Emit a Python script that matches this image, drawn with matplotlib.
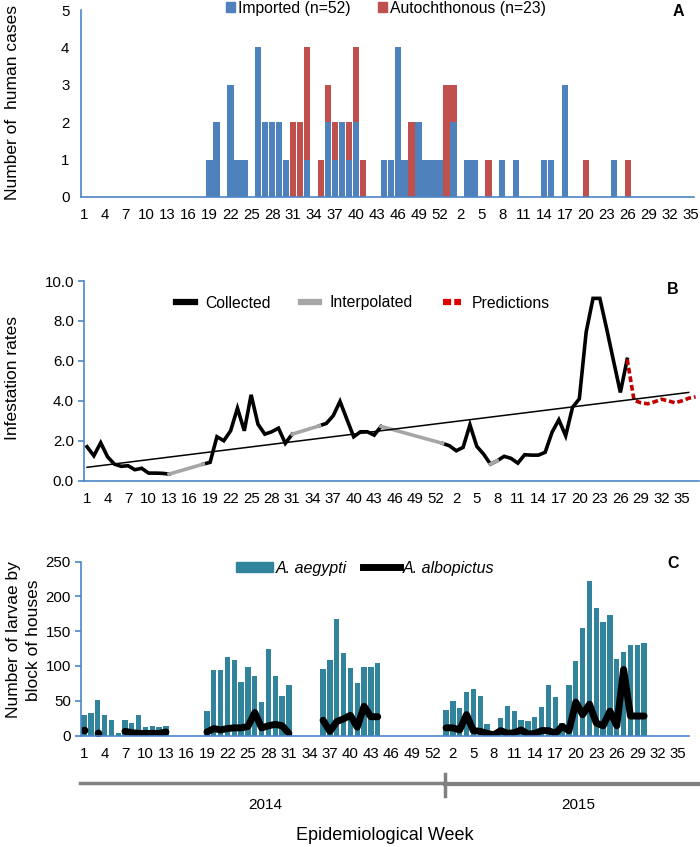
import numpy as np
import matplotlib
matplotlib.use('Agg')
import matplotlib.pyplot as plt
from matplotlib.lines import Line2D
from matplotlib.patches import Patch

plt.rcParams['font.family'] = ['Liberation Sans', 'DejaVu Sans']
plt.rcParams['font.size'] = 10.8

W, H = 700, 847
AXIS_BLUE = '#4A86C8'

# week labels: 2014 has 53 epi weeks, then 2015
def week_labels(n):
    wk = [str(i) for i in range(1, 54)] + [str(i) for i in range(1, 60)]
    return wk[:n]

# ---------------- Panel A: human cases ----------------
nA = 88
imported = {18: 1, 19: 2, 21: 3, 22: 1, 23: 1, 25: 4, 26: 2, 27: 2, 28: 2, 29: 1,
            32: 1, 35: 2, 36: 1, 37: 2, 38: 1, 39: 2, 43: 1, 44: 1, 45: 4, 46: 1,
            48: 2, 49: 1, 50: 1, 51: 1, 53: 2, 55: 1, 56: 1, 60: 1, 62: 1, 66: 1,
            67: 1, 69: 3, 76: 1}
autochthonous = {30: 2, 31: 2, 32: 3, 34: 1, 35: 1, 36: 1, 38: 1, 39: 2, 40: 1,
                 47: 2, 52: 3, 53: 1, 58: 1, 72: 1, 78: 1}

# ---------------- Panel B: infestation rates ----------------
nB = 90
collected = {0: 1.7, 1: 1.25, 2: 1.9, 3: 1.2, 4: 0.83, 5: 0.72, 6: 0.75, 7: 0.55,
             8: 0.62, 9: 0.38, 10: 0.38, 11: 0.37, 12: 0.33,
             17: 0.83, 18: 0.92, 19: 2.2, 20: 2.0, 21: 2.5, 22: 3.63, 23: 2.5,
             24: 4.3, 25: 2.83, 26: 2.33, 27: 2.45, 28: 2.63, 29: 1.87, 30: 2.33,
             34: 2.75, 35: 2.87, 36: 3.25, 37: 3.97, 38: 3.08, 39: 2.2, 40: 2.45,
             41: 2.45, 42: 2.28, 43: 2.72,
             52: 1.87, 53: 1.75, 54: 1.5, 55: 1.67, 56: 2.8, 57: 1.72, 58: 1.33,
             59: 0.83, 60: 1.0, 61: 1.22, 62: 1.12, 63: 0.88, 64: 1.3, 65: 1.28,
             66: 1.28, 67: 1.42, 68: 2.42, 69: 3.05, 70: 2.25, 71: 3.67, 72: 4.1,
             73: 7.45, 74: 9.13, 75: 9.13, 76: 7.6, 77: 6.0, 78: 4.42, 79: 6.08}
interp_gaps = [(12, 17), (30, 34), (43, 52), (59, 60)]
pred_start = 79
predictions = [6.08, 4.03, 3.9, 3.85, 3.95, 4.08, 4.0, 3.9, 4.0, 4.13, 4.2]
trend_ends = (0.67, 4.42)

# ---------------- Panel C: larvae ----------------
nC = 89
aegypti = {0: 29, 1: 33, 2: 51, 3: 29, 4: 23, 5: 3, 6: 22, 7: 18, 8: 29, 9: 12,
           10: 14, 11: 12, 12: 14,
           18: 35, 19: 94, 20: 94, 21: 113, 22: 108, 23: 77, 24: 98, 25: 86,
           26: 48, 27: 125, 28: 86, 29: 57, 30: 72,
           35: 95, 36: 108, 37: 168, 38: 119, 39: 97, 40: 76, 41: 99, 42: 99,
           43: 105,
           53: 36, 54: 49, 55: 39, 56: 63, 57: 67, 58: 57, 59: 17, 61: 25,
           62: 42, 63: 35, 64: 22, 65: 21, 66: 27, 67: 41, 68: 72, 69: 55,
           70: 18, 71: 73, 72: 107, 73: 155, 74: 222, 75: 184, 76: 163, 77: 174,
           78: 110, 79: 120, 80: 130, 81: 130, 82: 133}
albopictus = {0: 8, 2: 3,
              6: 6, 7: 4, 8: 3, 9: 3, 10: 3, 11: 3, 12: 5,
              18: 5, 19: 10, 20: 8, 21: 10, 22: 11, 23: 11, 24: 13, 25: 33,
              26: 11, 27: 14, 28: 16, 29: 14, 30: 3,
              35: 22, 36: 6, 37: 20, 38: 24, 39: 29, 40: 12, 41: 42, 42: 27, 43: 27,
              53: 11, 54: 11, 55: 8, 56: 30, 57: 7, 58: 6, 59: 3, 60: 1, 61: 7,
              62: 3, 63: 4, 64: 8, 65: 2, 66: 3, 67: 7, 68: 7, 69: 3, 70: 13,
              71: 7, 72: 48, 73: 30, 74: 45, 75: 18, 76: 14, 77: 35, 78: 14,
              79: 95, 80: 28, 81: 28, 82: 28}


def to_series(d, n):
    s = np.full(n, np.nan)
    for k, v in d.items():
        s[k] = v
    return s


def add_ax(left, right, top, bottom):
    return fig.add_axes([left / W, 1 - bottom / H, (right - left) / W, (bottom - top) / H])


def style_axis(ax, n, ticks_left=True):
    for s in ['top', 'right']:
        ax.spines[s].set_visible(False)
    ax.spines['left'].set_color(AXIS_BLUE)
    ax.spines['bottom'].set_color(AXIS_BLUE)
    ax.spines['left'].set_linewidth(1.2)
    ax.spines['bottom'].set_linewidth(1.2)
    ax.set_xlim(-0.5, n - 0.5)
    ax.set_xticks(np.arange(0, n, 3))
    ax.set_xticklabels(week_labels(n)[::3])
    ax.tick_params(axis='x', length=0, pad=8)
    if ticks_left:
        ax.tick_params(axis='y', color=AXIS_BLUE, length=4, width=1.2, pad=3)
    else:
        ax.tick_params(axis='y', length=0, pad=8)


def ylab(txt, y):
    fig.text(13 / W, 1 - y / H, txt, rotation=90, ha='center', va='center',
             fontsize=12.5, linespacing=1.05)


fig = plt.figure(figsize=(7, 8.47), dpi=100)

# ---- A ----
axA = add_ax(80.5, 694, 10, 197)
x = np.arange(nA)
imp = np.nan_to_num(to_series(imported, nA))
aut = np.nan_to_num(to_series(autochthonous, nA))
axA.bar(x, imp, width=0.92, color='#4F81BD', linewidth=0)
axA.bar(x, aut, bottom=imp, width=0.92, color='#C0504D', linewidth=0)
axA.set_ylim(0, 5)
axA.set_yticks(range(6))
style_axis(axA, nA, ticks_left=False)
ylab('Number of  human cases', 102)
axA.legend(handles=[Patch(color='#4F81BD', label='Imported (n=52)'),
                    Patch(color='#C0504D', label='Autochthonous (n=23)')],
           loc='center', bbox_to_anchor=(386 / W, 1 - 8 / H), bbox_transform=fig.transFigure,
           ncol=2, frameon=False, handlelength=0.6, handleheight=0.6, handletextpad=0.2,
           columnspacing=1.7, fontsize=11.3)
fig.text(678 / W, 1 - 12 / H, 'A', fontweight='bold', ha='center', va='center', fontsize=11.5)

# ---- B ----
axB = add_ax(83.6, 699, 281, 480.7)
xb = np.arange(nB)
coll = to_series(collected, nB)
axB.plot(xb, coll, color='black', lw=2.6, solid_joinstyle='miter')
for a, b in interp_gaps:
    axB.plot([a, b], [coll[a], coll[b]], color='#A6A6A6', lw=2.6)
xp = np.arange(pred_start, pred_start + len(predictions))
axB.plot(xp, predictions, color='#C00000', lw=2.6, ls=(0, (1.6, 0.8)))
axB.plot([0, nB - 2], trend_ends, color='black', lw=1.1)
axB.set_ylim(0, 10)
axB.set_yticks(np.arange(0, 10.1, 2))
axB.set_yticklabels([f'{v:.1f}' for v in np.arange(0, 10.1, 2)])
style_axis(axB, nB)
ylab('Infestation rates', 378)
axB.legend(handles=[Line2D([], [], color='black', lw=4.5, label='Collected'),
                    Line2D([], [], color='#A6A6A6', lw=4.5, label='Interpolated'),
                    Line2D([], [], color='#E00000', lw=4.5, ls=(0, (1.3, 0.5)), label='Predictions')],
           loc='center', bbox_to_anchor=(363 / W, 1 - 303 / H), bbox_transform=fig.transFigure,
           ncol=3, frameon=False, handlelength=1.2, handletextpad=0.65, columnspacing=1.9,
           fontsize=11.3)
fig.text(673 / W, 1 - 289 / H, 'B', fontweight='bold', ha='center', va='center', fontsize=11.5)

# ---- C ----
axC = add_ax(80.6, 688.5, 561.7, 735.5)
xc = np.arange(nC)
aeg = np.nan_to_num(to_series(aegypti, nC))
alb = to_series(albopictus, nC)
axC.bar(xc, aeg, width=0.78, color='#31849B', linewidth=0)
axC.plot(xc, alb, color='black', lw=5, solid_capstyle='round', solid_joinstyle='round')
lone = [k for k in albopictus if (k - 1 not in albopictus and k + 1 not in albopictus)]
axC.plot(lone, [albopictus[k] for k in lone], 'o', color='black', ms=4.5)
axC.set_ylim(0, 250)
axC.set_yticks(range(0, 251, 50))
style_axis(axC, nC)
fig.text(14 / W, 1 - 640 / H, 'Number of larvae by', rotation=90, ha='center', va='center',
         fontsize=12.5)
fig.text(34 / W, 1 - 640 / H, 'block of houses', rotation=90, ha='center', va='center',
         fontsize=12.5)
axC.legend(handles=[Patch(color='#31849B', label='A. aegypti'),
                    Line2D([], [], color='black', lw=5, label='A. albopictus')],
           loc='center', bbox_to_anchor=(365 / W, 1 - 568 / H), bbox_transform=fig.transFigure,
           ncol=2, frameon=False, handlelength=2.3, handleheight=0.6, handletextpad=0.2,
           columnspacing=1.0, prop={'style': 'italic', 'size': 11.5})
fig.text(673 / W, 1 - 563 / H, 'C', fontweight='bold', ha='center', va='center', fontsize=11.5)

# year bracket under panel C
yr = fig.add_axes([0, 0, 1, 1], facecolor='none')
yr.set_xlim(0, W)
yr.set_ylim(H, 0)
yr.axis('off')
yr.plot([80, 445], [783, 783], color='#808080', lw=2.5)
yr.plot([445, 698], [784, 784], color='#808080', lw=3)
yr.plot([445, 445], [774, 796], color='#808080', lw=2.5)
yr.text(265, 805, '2014', ha='center', va='center', fontsize=11)
yr.text(578, 805, '2015', ha='center', va='center', fontsize=11)
yr.text(385, 836, 'Epidemiological Week', ha='center', va='center', fontsize=13)

fig.savefig('out.png', dpi=100)
